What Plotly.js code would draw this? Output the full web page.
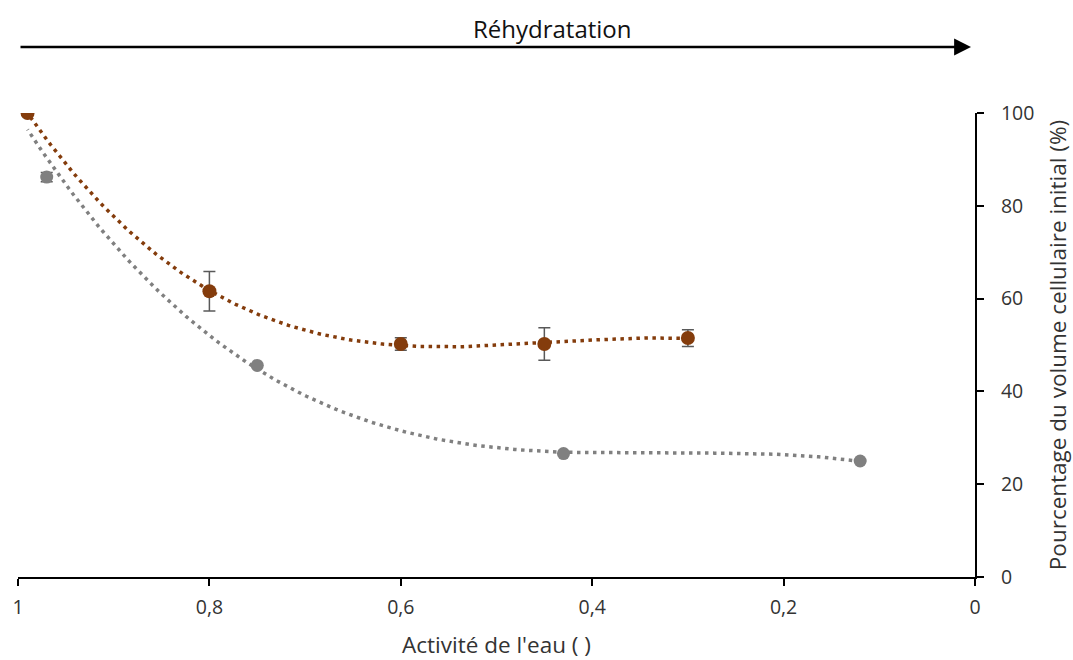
<!DOCTYPE html>
<html>
<head>
<meta charset="utf-8">
<script src="https://cdn.plot.ly/plotly-3.0.1.min.js"></script>
<style>html,body{margin:0;padding:0;background:#fff;}#chart{width:1073px;height:660px;}</style>
</head>
<body>
<div id="chart"></div>
<script>
// Brown series (rehydration)
const brownX = [0.99, 0.80, 0.60, 0.45, 0.30];
const brownY = [100, 61.6, 50.2, 50.2, 51.5];
const brownErr = [0.5, 4.25, 1.35, 3.5, 1.8];
// Grey series
const greyX = [0.99, 0.97, 0.75, 0.43, 0.12];
const greyY = [100, 86.2, 45.6, 26.6, 25.0];
const greyErr = [0, 1.0, 0, 0, 0];
// Axis ticks
const xTickVals = [1, 0.8, 0.6, 0.4, 0.2, 0];
const xTickText = ['1', '0,8', '0,6', '0,4', '0,2', '0'];
const yTickVals = [0, 20, 40, 60, 80, 100];

// Least-squares polynomial trendline (like a spreadsheet trendline)
function polyFit(xs, ys, deg) {
  const n = deg + 1;
  const A = [];
  for (let i = 0; i < n; i++) { A.push(new Array(n + 1).fill(0)); }
  for (let k = 0; k < xs.length; k++) {
    for (let i = 0; i < n; i++) {
      for (let j = 0; j < n; j++) A[i][j] += Math.pow(xs[k], i + j);
      A[i][n] += ys[k] * Math.pow(xs[k], i);
    }
  }
  for (let c = 0; c < n; c++) {
    let p = c;
    for (let r = c + 1; r < n; r++) if (Math.abs(A[r][c]) > Math.abs(A[p][c])) p = r;
    [A[c], A[p]] = [A[p], A[c]];
    for (let r = 0; r < n; r++) {
      if (r === c) continue;
      const f = A[r][c] / A[c][c];
      for (let j = c; j <= n; j++) A[r][j] -= f * A[c][j];
    }
  }
  return A.map((row, i) => row[n] / row[i]);
}
function trend(xs, ys, deg) {
  const co = polyFit(xs, ys, deg);
  const lo = Math.min(...xs), hi = Math.max(...xs);
  const tx = [], ty = [];
  const N = 200;
  for (let i = 0; i <= N; i++) {
    const x = lo + (hi - lo) * i / N;
    let y = 0;
    for (let k = 0; k < co.length; k++) y += co[k] * Math.pow(x, k);
    tx.push(x); ty.push(y);
  }
  return {tx, ty};
}

const BROWN = '#843C0C';
const GREY = '#808080';
const TXT = '#333333';
const gT = trend(greyX, greyY, 3);
const bT = trend(brownX, brownY, 3);

const traces = [
  {x: gT.tx, y: gT.ty, mode: 'lines', line: {color: GREY, width: 3.5, dash: '3.5px,4.5px'}, hoverinfo: 'skip'},
  {x: greyX, y: greyY, mode: 'markers', marker: {color: GREY, size: 13},
   error_y: {type: 'data', array: greyErr, visible: true, color: '#595959', thickness: 1.5, width: 6}},
  {x: bT.tx, y: bT.ty, mode: 'lines', line: {color: BROWN, width: 3.5, dash: '3.5px,4.5px'}, hoverinfo: 'skip'},
  {x: brownX, y: brownY, mode: 'markers', marker: {color: BROWN, size: 14},
   error_y: {type: 'data', array: brownErr, visible: true, color: '#595959', thickness: 1.5, width: 6}}
];

const FONT = 'Open Sans, sans-serif';
const layout = {
  width: 1073, height: 660,
  margin: {l: 18, r: 98, t: 113, b: 83},
  paper_bgcolor: '#fff', plot_bgcolor: '#fff',
  showlegend: false,
  separators: ', ',
  font: {family: FONT, size: 18, color: TXT},
  xaxis: {
    range: [1, 0], tickvals: xTickVals, ticktext: xTickText,
    showgrid: false, zeroline: false, showline: true, linecolor: '#000', linewidth: 2,
    ticks: 'outside', ticklen: 7, tickwidth: 2, tickcolor: '#000', ticklabelstandoff: 5,
    tickfont: {family: FONT, size: 19.5, color: TXT},
    title: {text: "Activité de l'eau ( )", font: {family: FONT, size: 22.5, color: TXT}, standoff: 20},
    fixedrange: true
  },
  yaxis: {
    range: [0, 100], tickvals: yTickVals, side: 'right',
    showgrid: false, zeroline: false, showline: true, linecolor: '#000', linewidth: 2,
    ticks: 'outside', ticklen: 7, tickwidth: 2, tickcolor: '#000', ticklabelstandoff: 13,
    tickfont: {family: FONT, size: 19.5, color: TXT},
    title: {text: 'Pourcentage du volume cellulaire initial (%)', font: {family: FONT, size: 22.5, color: TXT}, standoff: 22},
    fixedrange: true
  },
  annotations: [
    {xref: 'paper', yref: 'paper', x: (552 - 18) / 957, y: (577 - 28) / 464, text: 'Réhydratation',
     showarrow: false, xanchor: 'center', yanchor: 'middle',
     font: {family: FONT, size: 24, color: '#111'}},
    {xref: 'paper', yref: 'paper', x: (971 - 18) / 957, y: (577 - 47) / 464, text: '',
     showarrow: true, axref: 'pixel', ayref: 'pixel', ax: -952, ay: 0,
     arrowhead: 2, arrowsize: 1.35, arrowwidth: 2.5, arrowcolor: '#000', standoff: 0, startstandoff: 0}
  ]
};

Plotly.newPlot('chart', traces, layout, {displayModeBar: false, staticPlot: true});
</script>
</body>
</html>
